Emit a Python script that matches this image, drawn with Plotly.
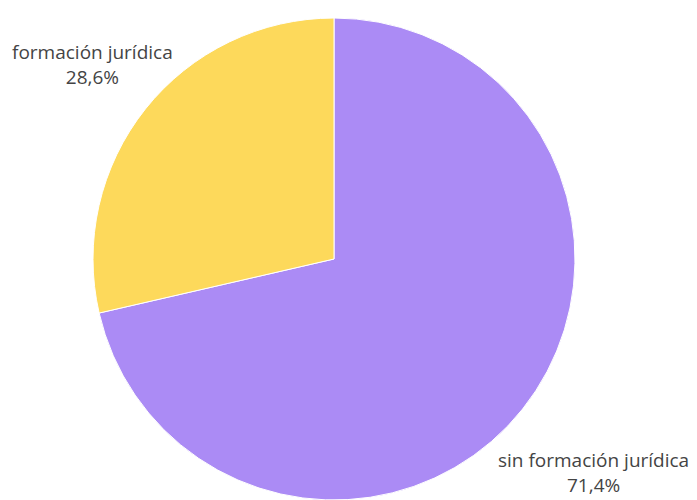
import plotly.graph_objects as go

labels = ["sin formación jurídica", "formación jurídica"]
values = [71.4, 28.6]
colors = ["#AB8BF5", "#FDD95B"]

OFF = 8  # page body margin
W, H = 697 - OFF, 500 - OFF
label_pos = [(593 - OFF, 472 - OFF), (92 - OFF, 65 - OFF)]  # pixel centers of label text
cx, cy, r = 334 - OFF, 259 - OFF, 241

fig = go.Figure(go.Pie(
    labels=labels, values=values, sort=False, direction="clockwise", rotation=0,
    marker=dict(colors=colors, line=dict(color="white", width=1)),
    textinfo="none", hoverinfo="label+percent",
    domain=dict(x=[(cx - r) / W, (cx + r) / W], y=[max(0, 1 - (cy + r) / H), 1 - (cy - r) / H]),
    showlegend=False,
))
for lab, val, (px, py) in zip(labels, values, label_pos):
    fig.add_annotation(
        x=px / W, y=1 - py / H, xref="paper", yref="paper",
        text=f"{lab}<br>{str(val).replace('.', ',')}%", showarrow=False,
        font=dict(family="Open Sans", size=19, color="#444444"), align="center",
        xanchor="center", yanchor="middle",
    )
fig.update_layout(width=W, height=H, margin=dict(l=0, r=0, t=0, b=0),
                  paper_bgcolor="white", plot_bgcolor="white")
fig.write_html("out.html")
